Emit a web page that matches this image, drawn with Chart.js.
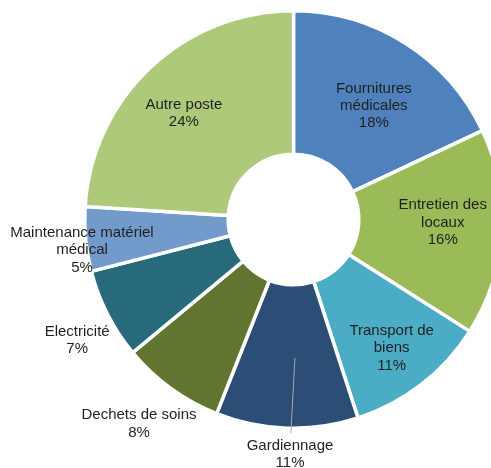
<!DOCTYPE html>
<html>
<head>
<meta charset="utf-8">
<script src="https://cdn.jsdelivr.net/npm/chart.js@4/dist/chart.umd.min.js"></script>
<style>
  html, body { margin: 0; padding: 0; background: #ffffff; overflow: hidden; }
  #wrap { position: absolute; left: 0; top: 0; width: 520px; height: 468px; }
</style>
</head>
<body>
<div id="wrap"><canvas id="c" width="520" height="468"></canvas></div>
<script>
// Répartition des dépenses par poste (%)
const categories = [
  'Fournitures médicales',
  'Entretien des locaux',
  'Transport de biens',
  'Gardiennage',
  'Dechets de soins',
  'Electricité',
  'Maintenance matériel médical',
  'Autre poste'
];
const shares = [18, 16, 11, 11, 8, 7, 5, 24];

// Libellés affichés, découpés en lignes
const labelLines = [
  ['Fournitures', 'médicales'],
  ['Entretien des', 'locaux'],
  ['Transport de', 'biens'],
  ['Gardiennage'],
  ['Dechets de soins'],
  ['Electricité'],
  ['Maintenance matériel', 'médical'],
  ['Autre poste']
];

const sliceColors = ['#4F81BD', '#9BBB59', '#4BACC6', '#2C4D75', '#5F7530', '#276A7C', '#729ACA', '#AFC97A'];

// Placement des étiquettes : rayon relatif au rayon extérieur, décalage angulaire (degrés)
const labelPlacement = [
  { r: 0.666, dAngle: 2.9 },
  { r: 0.715, dAngle: -2.5 },
  { r: 0.776, dAngle: 0.5 },
  { r: 1.126, dAngle: -0.95, leader: { from: 0.663, fromAngle: -2.4, to: 1.023, toAngle: -1.1 } },
  { r: 1.227, dAngle: 1.1 },
  { r: 1.187, dAngle: -2.2 },
  { r: 1.024, dAngle: -2.9 },
  { r: 0.730, dAngle: -2.8 }
];

const FONT = '15px "Liberation Sans", Arial, sans-serif';
const LINE_H = 17.3;
const deg = Math.PI / 180;

const sliceLabels = {
  id: 'sliceLabels',
  afterDatasetsDraw(chart) {
    const ctx = chart.ctx;
    const meta = chart.getDatasetMeta(0);
    ctx.save();
    meta.data.forEach((arc, i) => {
      const p = arc.getProps(['x', 'y', 'startAngle', 'endAngle', 'outerRadius'], true);
      const mid = (p.startAngle + p.endAngle) / 2;
      const place = labelPlacement[i];
      const R = p.outerRadius;
      if (place.leader) {
        const L = place.leader;
        const a1 = mid + L.fromAngle * deg, a2 = mid + L.toAngle * deg;
        ctx.beginPath();
        ctx.strokeStyle = '#a6a6a6';
        ctx.lineWidth = 1;
        ctx.moveTo(p.x + L.from * R * Math.cos(a1), p.y + L.from * R * Math.sin(a1));
        ctx.lineTo(p.x + L.to * R * Math.cos(a2), p.y + L.to * R * Math.sin(a2));
        ctx.stroke();
      }
      const a = mid + place.dAngle * deg;
      const cx = p.x + place.r * R * Math.cos(a);
      const cy = p.y + place.r * R * Math.sin(a);
      const lines = labelLines[i].concat([shares[i] + '%']);
      const top = cy - (lines.length - 1) * LINE_H / 2;
      ctx.font = FONT;
      ctx.fillStyle = '#1f1f1f';
      ctx.textAlign = 'center';
      ctx.textBaseline = 'middle';
      lines.forEach((t, k) => ctx.fillText(t, cx, top + k * LINE_H));
    });
    ctx.restore();
  }
};

new Chart(document.getElementById('c'), {
  type: 'doughnut',
  data: {
    labels: categories,
    datasets: [{
      data: shares,
      backgroundColor: sliceColors,
      borderColor: '#ffffff',
      borderWidth: 3.5,
      hoverBorderWidth: 3.5,
      hoverOffset: 0,
      offset: 0
    }]
  },
  options: {
    responsive: false,
    devicePixelRatio: 1,
    animation: false,
    events: [],
    cutout: '31.3%',
    layout: { padding: { left: 83, top: 9, right: 16, bottom: 38 } },
    plugins: {
      legend: { display: false },
      tooltip: { enabled: false }
    }
  },
  plugins: [sliceLabels]
});
</script>
</body>
</html>
